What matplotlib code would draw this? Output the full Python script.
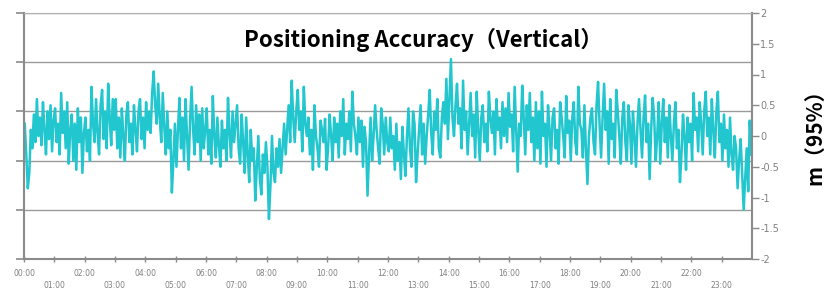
import numpy as np
import matplotlib.pyplot as plt
from matplotlib.ticker import FixedLocator, NullFormatter

# vertical error (m, 95%) every 3 minutes over one day, one row per hour
err = [
    0.2, -0.3, -0.85, -0.6, 0.1, -0.2, 0.35, -0.1, 0.6, 0.0, 0.3, -0.15, 0.55, 0.1, -0.3, 0.4, -0.05, 0.5, -0.25, 0.25,
    0.45, -0.1, 0.2, -0.3, 0.7, 0.05, 0.4, -0.2, 0.55, -0.45, 0.1, 0.35, -0.4, 0.2, -0.55, 0.45, -0.1, 0.3, -0.6, 0.05,
    0.3, -0.25, 0.1, -0.4, 0.8, 0.2, -0.1, 0.6, 0.05, -0.3, 0.5, 0.75, -0.05, 0.4, -0.2, 0.85, 0.3, -0.15, 0.6, 0.1,
    0.6, -0.2, 0.3, -0.35, 0.45, 0.0, -0.4, 0.35, 0.55, -0.1, 0.2, -0.3, 0.5, 0.1, -0.25, 0.4, 0.6, -0.05, 0.3, -0.2,
    0.55, 0.1, 0.4, 0.05, 0.7, 1.05, 0.5, 0.2, 0.85, 0.3, -0.1, 0.7, 0.15, -0.3, 0.4, -0.2, 0.1, -0.92, -0.4, 0.2,
    -0.5, 0.1, 0.62, -0.2, 0.3, -0.4, 0.6, 0.0, -0.55, 0.25, 0.8, 0.1, -0.3, 0.5, -0.1, 0.35, -0.4, 0.45, -0.2, 0.1,
    0.45, -0.3, 0.1, -0.45, 0.65, 0.0, -0.35, 0.3, -0.15, -0.5, 0.25, -0.2, 0.1, -0.4, 0.62, 0.05, -0.35, 0.4, -0.1, 0.2,
    0.5, -0.2, -0.45, 0.35, -0.1, -0.6, 0.3, -0.3, -0.75, 0.1, -0.4, -0.2, -1.05, -0.5, 0.0, -0.7, -0.95, -0.3, -0.6, -0.1,
    -0.5, -1.35, -0.8, 0.0, -0.6, -0.75, -0.2, -0.5, -0.05, -0.6, -0.2, 0.2, -0.3, 0.1, 0.5, -0.1, 0.9, 0.3, -0.1, 0.4,
    0.75, 0.1, 0.4, -0.25, 0.8, 0.2, 0.0, 0.3, -0.3, 0.1, -0.55, 0.5, 0.0, -0.2, -0.5, 0.25, 0.1, -0.1, 0.28, -0.55,
    -0.2, 0.35, 0.0, -0.4, 0.3, -0.1, 0.2, -0.35, 0.4, 0.0, 0.6, -0.3, 0.2, -0.05, 0.4, -0.25, 0.72, 0.2, 0.0, -0.3,
    0.3, -0.1, 0.25, -0.5, 0.15, -0.1, -0.97, -0.3, 0.3, -0.4, 0.0, 0.5, 0.1, -0.2, -0.45, 0.45, 0.2, -0.3, 0.3, -0.1,
    -0.25, 0.3, -0.2, 0.0, -0.55, 0.2, -0.4, -0.1, -0.7, 0.15, -0.3, -0.65, 0.0, 0.45, -0.2, -0.5, 0.4, 0.2, -0.75, -0.3,
    0.1, 0.5, -0.3, 0.2, -0.45, 0.0, 0.35, 0.75, 0.05, -0.3, 0.4, 0.1, 0.6, -0.2, -0.35, 0.3, 0.55, 0.2, 0.93, -0.05,
    0.6, 1.25, 0.3, 0.0, 0.5, 0.85, 0.2, 0.45, -0.2, 0.9, 0.1, 0.4, -0.3, 0.2, 0.7, 0.0, 0.35, -0.35, 0.72, 0.1,
    -0.4, 0.3, 0.5, -0.1, 0.2, -0.25, 0.72, 0.3, 0.05, 0.4, -0.3, 0.6, 0.1, 0.3, -0.2, 0.55, 0.0, 0.45, -0.1, 0.7,
    0.15, 0.35, -0.25, 0.8, 0.1, -0.58, 0.2, 0.0, 0.82, 0.3, -0.3, 0.5, 0.1, 0.7, -0.1, 0.3, -0.4, 0.55, -0.2, 0.4,
    -0.45, 0.72, 0.0, 0.2, -0.5, 0.5, 0.1, -0.4, 0.3, 0.45, -0.2, 0.1, -0.45, 0.55, 0.3, 0.0, -0.35, 0.65, 0.05, 0.25,
    -0.4, 0.3, 0.55, -0.1, -0.3, 0.8, 0.2, 0.1, -0.35, 0.5, -0.2, -0.78, 0.0, 0.3, 0.45, -0.1, -0.3, 0.5, 0.88, 0.2,
    -0.35, 0.3, 0.85, 0.1, 0.4, -0.45, 0.6, -0.05, 0.2, -0.35, 0.75, 0.4, 0.0, -0.45, 0.3, 0.55, -0.1, -0.4, 0.5, 0.2,
    -0.45, 0.4, 0.0, -0.5, 0.2, 0.6, 0.1, -0.35, 0.3, 0.66, -0.1, 0.2, -0.7, 0.1, 0.62, 0.3, -0.4, 0.0, 0.55, -0.45,
    0.2, 0.6, -0.1, 0.3, -0.35, 0.5, 0.0, -0.4, 0.2, 0.55, -0.2, 0.1, -0.75, -0.3, 0.35, 0.0, -0.55, 0.3, -0.1, 0.2,
    -0.4, 0.7, 0.1, 0.3, -0.25, 0.55, 0.2, -0.3, 0.4, 0.72, 0.0, 0.3, -0.3, 0.6, 0.1, -0.35, 0.4, 0.72, -0.1, 0.2,
    -0.4, 0.35, -0.2, 0.1, -0.5, 0.3, -0.3, -0.55, 0.0, -0.2, -0.85, -0.4, -0.05, -0.6, -1.2, -0.7, -0.2, -0.9, 0.25, -0.3,
]
hours = np.arange(len(err)) * 0.05 + 0.025

grid_levels = [-2, -1.2, -0.4, 0.4, 1.2, 2]
right_ticks = [-2, -1.5, -1, -0.5, 0, 0.5, 1, 1.5, 2]
right_labels = ['-2', '-1.5', '-1', '-0.5', '0', '0.5', '1', '1.5', '2']
even_hours = list(range(0, 24, 2))
odd_hours = list(range(1, 24, 2))

gray = '#8a8a8a'
fig = plt.figure(figsize=(8.31, 2.94), dpi=100)
ax = fig.add_axes([24 / 831, 1 - 259 / 294, 728 / 831, 246 / 294])

ax.plot(hours, err, color='#22c6cf', lw=1.8)
ax.set_xlim(0, 24)
ax.set_ylim(-2, 2)

# left axis: ticks only, lines across
ax.set_yticks(grid_levels)
ax.yaxis.set_major_formatter(NullFormatter())
ax.tick_params(axis='y', length=6, width=1.2, color=gray)
ax.grid(axis='y', color='#9a9a9a', lw=1.0)

# x axis: even hours on top row, odd hours below
ax.xaxis.set_major_locator(FixedLocator(even_hours))
ax.xaxis.set_minor_locator(FixedLocator(odd_hours))
ax.set_xticklabels(['%02d:00' % h for h in even_hours])
ax.set_xticklabels(['%02d:00' % h for h in odd_hours], minor=True)
ax.tick_params(axis='x', which='major', direction='inout', length=4, width=1,
               color=gray, labelsize=5.5, labelcolor='#808080', pad=5)
ax.tick_params(axis='x', which='minor', direction='inout', length=4, width=1,
               color=gray, labelsize=5.5, labelcolor='#808080', pad=14)

for s in ['left', 'bottom', 'right']:
    ax.spines[s].set_color(gray)
    ax.spines[s].set_linewidth(1.5)
ax.spines['top'].set_color('#b0b0b0')

r = ax.twinx()
r.set_ylim(-2, 2)
r.set_yticks(right_ticks)
r.set_yticklabels(right_labels)
r.tick_params(axis='y', length=5, width=1, color=gray, labelsize=7,
              labelcolor='#808080', pad=1)
for s in r.spines.values():
    s.set_visible(False)

ax.text(0.548, 0.89, 'Positioning Accuracy（Vertical）', transform=ax.transAxes,
        ha='center', va='center', fontsize=16, fontweight='bold',
        family=['Noto Sans CJK JP', 'DejaVu Sans'])
fig.text(815 / 831, 1 - 132 / 294, 'm（95%）', rotation=90, ha='center', va='center',
         fontsize=15, fontweight='bold', family=['Noto Sans CJK JP', 'DejaVu Sans'])

plt.savefig('out.png', dpi=100)
